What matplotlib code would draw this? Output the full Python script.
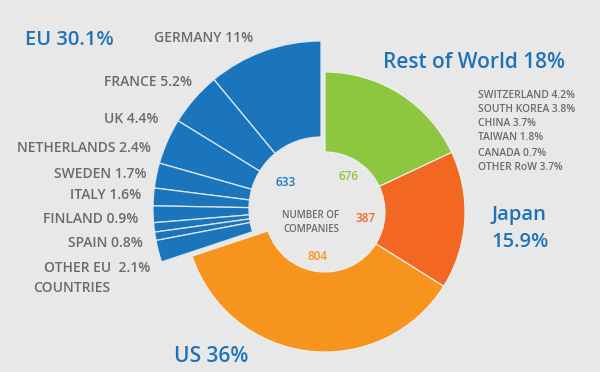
import matplotlib.pyplot as plt
from matplotlib.patches import Wedge

# shares of companies by region (percent), clockwise from 12 o'clock
regions = ['Rest of World', 'Japan', 'US', 'EU']
region_share = [18, 15.9, 36, 30.1]
companies = [676, 387, 804, 633]
region_colors = ['#8DC63F', '#F26722', '#F7941D', '#1B75BC']

# EU breakdown, top to bottom as labelled
eu_countries = ['GERMANY', 'FRANCE', 'UK', 'NETHERLANDS', 'SWEDEN',
                'ITALY', 'FINLAND', 'SPAIN', 'OTHER EU']
eu_share = [11, 5.2, 4.4, 2.4, 1.7, 1.6, 0.9, 0.8, 2.1]

# rest of world breakdown
row_countries = ['SWITZERLAND', 'SOUTH KOREA', 'CHINA', 'TAIWAN', 'CANADA', 'OTHER RoW']
row_share = [4.2, 3.8, 3.7, 1.8, 0.7, 3.7]

bg = '#E8E8E8'
blue = '#1F72B8'
grey = '#6A6A6A'
plt.rcParams['font.family'] = ['Open Sans', 'DejaVu Sans']

fig = plt.figure(figsize=(6, 3.72), dpi=100, facecolor=bg)
ax = fig.add_axes([0, 0, 1, 1])
ax.set_facecolor(bg)
ax.set_xlim(0, 600)
ax.set_ylim(372, 0)   # pixel-like coords, y down
ax.set_aspect('equal')
ax.axis('off')

deg = 360.0 / sum(region_share)
c0, R0, r0 = (325, 212), 140, 60      # main ring
c1, R1, r1 = (321, 209), 168, 72      # pulled-out EU ring

# bearing measured clockwise from north -> theta in flipped axes is bearing-90
start = 0.0
for name, share, col in zip(regions, region_share, region_colors):
    end = start + share * deg
    if name != 'EU':
        ax.add_patch(Wedge(c0, R0, start - 90, end - 90, width=R0 - r0,
                           facecolor=col, edgecolor='#F2F2F2', linewidth=0.8))
    else:
        b = end
        for sh in eu_share:
            a = b - sh * deg
            ax.add_patch(Wedge(c1, R1, a - 90, b - 90, width=R1 - r1,
                               facecolor=col, edgecolor='#DDE8F2', linewidth=0.9))
            b = a
    start = end

# centre labels
num_pos = [(349, 176), (366, 218), (318, 257), (286, 183)]
for (x, y), n, col in zip(num_pos, companies, region_colors):
    ax.text(x, y, str(n), color=col, fontsize=8.5, fontweight='semibold',
            ha='center', va='center')
ax.text(311, 216, 'NUMBER OF', color=grey, fontsize=7, fontweight='semibold',
        ha='center', va='center')
ax.text(311, 230, 'COMPANIES', color=grey, fontsize=7, fontweight='semibold',
        ha='center', va='center')

# region headings
hs = 14.5
ax.text(25, 40, f'EU {region_share[3]}%', color=blue, fontsize=hs,
        fontweight='semibold', ha='left', va='center')
ax.text(383, 62, f'Rest of World {region_share[0]:g}%', color=blue, fontsize=hs + 0.5,
        fontweight='semibold', ha='left', va='center')
ax.text(492, 215, 'Japan', color=blue, fontsize=hs, fontweight='semibold',
        ha='left', va='center')
ax.text(491, 242, f'{region_share[1]}%', color=blue, fontsize=hs,
        fontweight='semibold', ha='left', va='center')
ax.text(174, 357, f'US {region_share[2]:g}%', color=blue, fontsize=hs + 0.5,
        fontweight='semibold', ha='left', va='center')

# EU country labels (right edge, centre y)
eu_lab_pos = [(253, 38), (192, 82), (158, 119), (151, 148), (147, 174),
              (141, 195), (138, 219), (143, 243), (150, 268)]
for (x, y), n, s in zip(eu_lab_pos, eu_countries, eu_share):
    sep = '  ' if n == 'OTHER EU' else ' '
    ax.text(x, y, f'{n}{sep}{s:g}%', color=grey, fontsize=10,
            fontweight='semibold', ha='right', va='center')
ax.text(33, 288, 'COUNTRIES', color=grey, fontsize=10, fontweight='semibold',
        ha='left', va='center')

# rest of world list
row_y = [96, 110, 124, 138, 153, 167]
for y, n, s in zip(row_y, row_countries, row_share):
    ax.text(478, y, f'{n} {s:g}%', color=grey, fontsize=7.4, fontweight='semibold',
            ha='left', va='center')

fig.savefig('out.png', dpi=100, facecolor=bg)
